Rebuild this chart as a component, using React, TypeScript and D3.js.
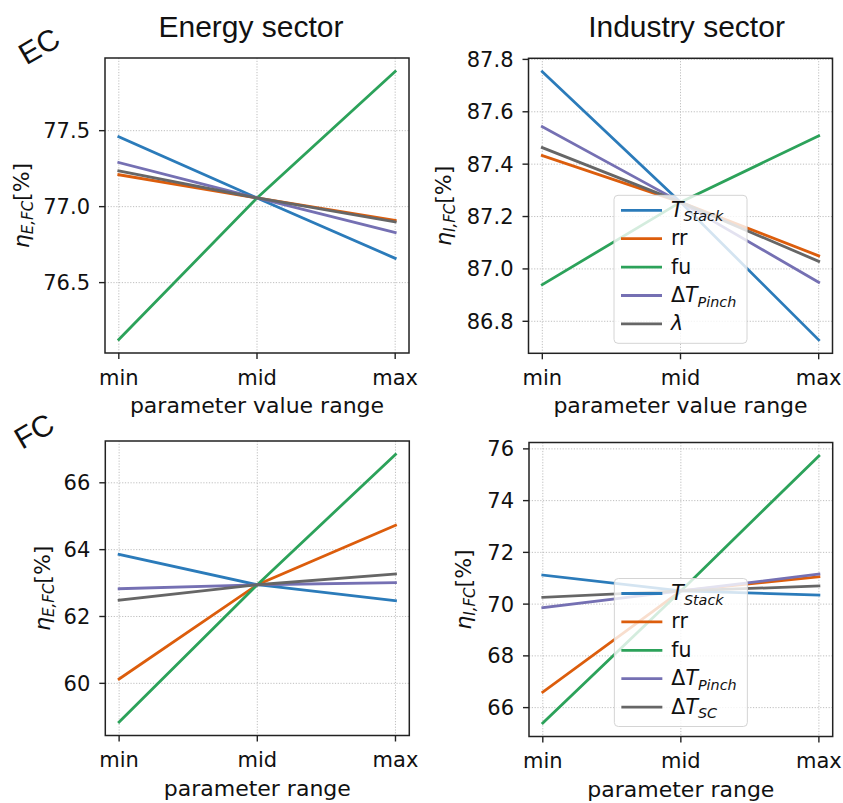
import React from "react";
import * as d3 from "d3";

// ---------- data ----------
const categories = ["min", "mid", "max"];
const namesEC = ["T_Stack", "rr", "fu", "ΔT_Pinch", "λ"];
const namesFC = ["T_Stack", "rr", "fu", "ΔT_Pinch", "ΔT_SC"];
const colors = ["#2b7bba", "#dc5d0c", "#2ca25a", "#7570b3", "#666666"];

// EC – Energy sector
const ecEnergyTStack = [77.46, 77.057, 76.66];
const ecEnergyRR = [77.21, 77.057, 76.91];
const ecEnergyFU = [76.125, 77.057, 77.89];
const ecEnergyPinch = [77.29, 77.057, 76.83];
const ecEnergyLambda = [77.235, 77.057, 76.9];

// EC – Industry sector
const ecIndustryTStack = [87.753, 87.255, 86.729];
const ecIndustryRR = [87.433, 87.255, 87.05];
const ecIndustryFU = [86.94, 87.255, 87.508];
const ecIndustryPinch = [87.543, 87.255, 86.949];
const ecIndustryLambda = [87.463, 87.255, 87.029];

// FC – Energy sector
const fcEnergyTStack = [63.86, 62.95, 62.47];
const fcEnergyRR = [60.13, 62.95, 64.73];
const fcEnergyFU = [58.84, 62.95, 66.85];
const fcEnergyPinch = [62.83, 62.95, 63.01];
const fcEnergySC = [62.49, 62.95, 63.27];

// FC – Industry sector
const fcIndustryTStack = [71.12, 70.51, 70.35];
const fcIndustryRR = [66.6, 70.51, 71.06];
const fcIndustryFU = [65.4, 70.51, 75.73];
const fcIndustryPinch = [69.86, 70.51, 71.16];
const fcIndustrySC = [70.26, 70.51, 70.7];

const ticksEcEnergy = [76.5, 77.0, 77.5];
const ticksEcIndustry = [86.8, 87.0, 87.2, 87.4, 87.6, 87.8];
const ticksFcEnergy = [60, 62, 64, 66];
const ticksFcIndustry = [66, 68, 70, 72, 74, 76];

// ---------- rendering ----------
const TICK_FONT = "'DejaVu Sans', sans-serif";
const TITLE_FONT = "'Liberation Sans', Arial, sans-serif";

function MathLabel({ name, size }: { name: string; size: number }) {
  const [base, sub] = name.split("_");
  const parts: React.ReactNode[] = [];
  const upright = name === "rr" || name === "fu";
  Array.from(base).forEach((ch, i) => {
    const it = !upright && ch !== "Δ";
    parts.push(
      <tspan key={"b" + i} fontStyle={it ? "italic" : "normal"}>
        {ch}
      </tspan>
    );
  });
  if (sub) {
    parts.push(
      <tspan key="s" fontStyle="italic" fontSize={size * 0.7} dy={size * 0.22}>
        {sub}
      </tspan>
    );
  }
  return <>{parts}</>;
}

type PanelProps = {
  box: { left: number; right: number; top: number; bottom: number };
  series: number[][];
  names: string[];
  ticks: number[];
  fmt: string;
  title?: string;
  titleShift?: number;
  xLabel: string;
  ySub: string;
  yLabelOffset: number;
  legend: boolean;
  tickLabelDy: number;
};

function Panel(p: PanelProps) {
  const { box } = p;
  const x = d3.scaleLinear().domain([-0.1, 2.1]).range([box.left, box.right]);
  const all = p.series.flat();
  const lo = d3.min(all)!;
  const hi = d3.max(all)!;
  const m = (hi - lo) * 0.05;
  const y = d3.scaleLinear().domain([lo - m, hi + m]).range([box.bottom, box.top]);
  const line = d3
    .line<number>()
    .x((_, i) => x(i))
    .y((d) => y(d));
  const f = d3.format(p.fmt);
  const cx = (box.left + box.right) / 2;
  const cy = (box.top + box.bottom) / 2;

  const legW = 133;
  const legH = 148;
  const legL = cx - legW / 2;
  const legB = box.bottom - 10;
  const legT = legB - legH;

  return (
    <g>
      {p.ticks.map((t) => (
        <line
          key={"gy" + t}
          x1={box.left}
          x2={box.right}
          y1={y(t)}
          y2={y(t)}
          stroke="#b8b8b8"
          strokeWidth={0.9}
          strokeDasharray="1.2,1.6"
        />
      ))}
      {categories.map((c, i) => (
        <line
          key={"gx" + c}
          x1={x(i)}
          x2={x(i)}
          y1={box.top}
          y2={box.bottom}
          stroke="#b8b8b8"
          strokeWidth={0.9}
          strokeDasharray="1.2,1.6"
        />
      ))}
      {p.series.map((s, k) => (
        <path
          key={"l" + k}
          d={line(s)!}
          fill="none"
          stroke={colors[k]}
          strokeWidth={2.8}
          strokeLinecap="square"
        />
      ))}
      <rect
        x={box.left}
        y={box.top}
        width={box.right - box.left}
        height={box.bottom - box.top}
        fill="none"
        stroke="#222"
        strokeWidth={1.5}
      />
      {p.ticks.map((t) => (
        <g key={"ty" + t}>
          <line x1={box.left - 6} x2={box.left} y1={y(t)} y2={y(t)} stroke="#222" strokeWidth={1.4} />
          <text
            x={box.left - 15}
            y={y(t) + 7.5}
            textAnchor="end"
            fontFamily={TICK_FONT}
            fontSize={21}
            fill="#111"
          >
            {f(t)}
          </text>
        </g>
      ))}
      {categories.map((c, i) => (
        <g key={"tx" + c}>
          <line x1={x(i)} x2={x(i)} y1={box.bottom} y2={box.bottom + 6} stroke="#222" strokeWidth={1.4} />
          <text
            x={x(i)}
            y={box.bottom + p.tickLabelDy}
            textAnchor="middle"
            fontFamily={TICK_FONT}
            fontSize={21}
            fill="#111"
          >
            {c}
          </text>
        </g>
      ))}
      <text
        x={cx}
        y={box.bottom + 60}
        textAnchor="middle"
        fontFamily={TICK_FONT}
        fontSize={22}
        fill="#111"
      >
        {p.xLabel}
      </text>
      <text
        transform={`translate(${box.left - p.yLabelOffset},${cy}) rotate(-90)`}
        textAnchor="middle"
        fontFamily={TICK_FONT}
        fontSize={22}
        fill="#111"
      >
        <tspan fontStyle="italic">η</tspan>
        <tspan fontStyle="italic" fontSize={15} dy={4}>
          {p.ySub}
        </tspan>
        <tspan dy={-4}>[%]</tspan>
      </text>
      {p.title && (
        <text
          x={cx + (p.titleShift || 0)}
          y={36.5}
          textAnchor="middle"
          fontFamily={TITLE_FONT}
          fontSize={30}
          fill="#111"
        >
          {p.title}
        </text>
      )}
      {p.legend && (
        <g>
          <rect
            x={legL}
            y={legT}
            width={legW}
            height={legH}
            rx={4}
            fill="#fff"
            fillOpacity={0.8}
            stroke="#d4d4d4"
            strokeWidth={1}
          />
          {p.names.map((n, k) => {
            const ry = legT + 15 + k * 28.4;
            return (
              <g key={"lg" + n}>
                <line
                  x1={legL + 7}
                  x2={legL + 48}
                  y1={ry}
                  y2={ry}
                  stroke={colors[k]}
                  strokeWidth={2.8}
                />
                <text
                  x={legL + 57}
                  y={ry + 6.5}
                  fontFamily={TICK_FONT}
                  fontSize={20.5}
                  fill="#111"
                >
                  <MathLabel name={n} size={20.5} />
                </text>
              </g>
            );
          })}
        </g>
      )}
    </g>
  );
}

export default function App() {
  return (
    <svg
      width={843}
      height={803}
      style={{ display: "block", position: "absolute", left: 0, top: 0, background: "#fff" }}
    >
      <rect x={0} y={0} width={843} height={803} fill="#fff" />
      <Panel
        box={{ left: 105, right: 409, top: 58, bottom: 353 }}
        series={[ecEnergyTStack, ecEnergyRR, ecEnergyFU, ecEnergyPinch, ecEnergyLambda]}
        names={namesEC}
        ticks={ticksEcEnergy}
        fmt=".1f"
        title="Energy sector"
        titleShift={-6}
        xLabel="parameter value range"
        ySub="E,FC"
        yLabelOffset={76}
        legend={false}
        tickLabelDy={32}
      />
      <Panel
        box={{ left: 528.5, right: 832.5, top: 58.3, bottom: 353.3 }}
        series={[ecIndustryTStack, ecIndustryRR, ecIndustryFU, ecIndustryPinch, ecIndustryLambda]}
        names={namesEC}
        ticks={ticksEcIndustry}
        fmt=".1f"
        title="Industry sector"
        titleShift={6}
        xLabel="parameter value range"
        ySub="I,FC"
        yLabelOffset={78}
        legend={true}
        tickLabelDy={32}
      />
      <Panel
        box={{ left: 105.3, right: 409.3, top: 441, bottom: 735.5 }}
        series={[fcEnergyTStack, fcEnergyRR, fcEnergyFU, fcEnergyPinch, fcEnergySC]}
        names={namesFC}
        ticks={ticksFcEnergy}
        fmt="d"
        xLabel="parameter range"
        ySub="E,FC"
        yLabelOffset={55}
        legend={false}
        tickLabelDy={31}
      />
      <Panel
        box={{ left: 529, right: 832.7, top: 442.5, bottom: 736.5 }}
        series={[fcIndustryTStack, fcIndustryRR, fcIndustryFU, fcIndustryPinch, fcIndustrySC]}
        names={namesFC}
        ticks={ticksFcIndustry}
        fmt="d"
        xLabel="parameter range"
        ySub="I,FC"
        yLabelOffset={58}
        legend={true}
        tickLabelDy={31}
      />
      <text
        transform="translate(39,46) rotate(-30)"
        textAnchor="middle"
        dominantBaseline="central"
        fontFamily={TITLE_FONT}
        fontSize={30}
        fill="#111"
      >
        EC
      </text>
      <text
        transform="translate(34,431) rotate(-30)"
        textAnchor="middle"
        dominantBaseline="central"
        fontFamily={TITLE_FONT}
        fontSize={30}
        fill="#111"
      >
        FC
      </text>
    </svg>
  );
}
